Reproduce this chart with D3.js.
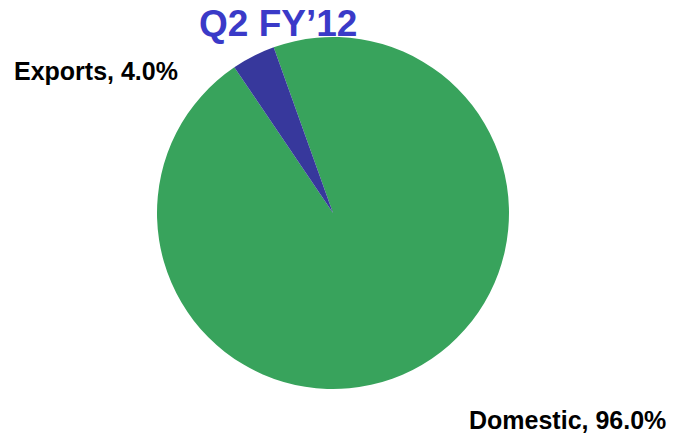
<!DOCTYPE html>
<html>
<head>
<meta charset="utf-8">
<script src="https://cdn.jsdelivr.net/npm/d3@7"></script>
<style>
  body { margin: 0; background: #fff; }
  text { font-family: "Liberation Sans", Arial, sans-serif; font-weight: bold; }
</style>
</head>
<body>
<div id="chart-area"></div>
<script>
var categories = ["Domestic", "Exports"];
var shares = [96.0, 4.0];
var colors = ["#38a35c", "#37389c"];
var title = "Q2 FY\u201912";

var width = 681;
var height = 436;
var cx = 333;
var cy = 213;
var radius = 176;

var svg = d3.select("#chart-area").append("svg")
    .attr("width", width)
    .attr("height", height);

var data = categories.map(function(c, i) {
    return { key: c, value: shares[i], color: colors[i] };
});

// domestic slice starts just right of the exports wedge
var startAngle = -19.7 * Math.PI / 180;
var pie = d3.pie()
    .sort(null)
    .value(function(d) { return d.value; })
    .startAngle(startAngle)
    .endAngle(startAngle + 2 * Math.PI);

var arc = d3.arc()
    .innerRadius(0)
    .outerRadius(radius);

var g = svg.append("g")
    .attr("transform", "translate(" + cx + "," + cy + ")");

g.selectAll("path")
    .data(pie(data))
    .enter()
    .append("path")
    .attr("d", arc)
    .attr("fill", function(d) { return d.data.color; });

svg.append("text")
    .attr("x", 199)
    .attr("y", 36)
    .attr("fill", "#3a3ac8")
    .style("font-size", "37px")
    .text(title);

svg.append("text")
    .attr("x", 14)
    .attr("y", 80)
    .attr("fill", "#000")
    .style("font-size", "25px")
    .text(categories[1] + ", " + shares[1].toFixed(1) + "%");

svg.append("text")
    .attr("x", 469)
    .attr("y", 429)
    .attr("fill", "#000")
    .style("font-size", "25px")
    .text(categories[0] + ", " + shares[0].toFixed(1) + "%");
</script>
</body>
</html>
